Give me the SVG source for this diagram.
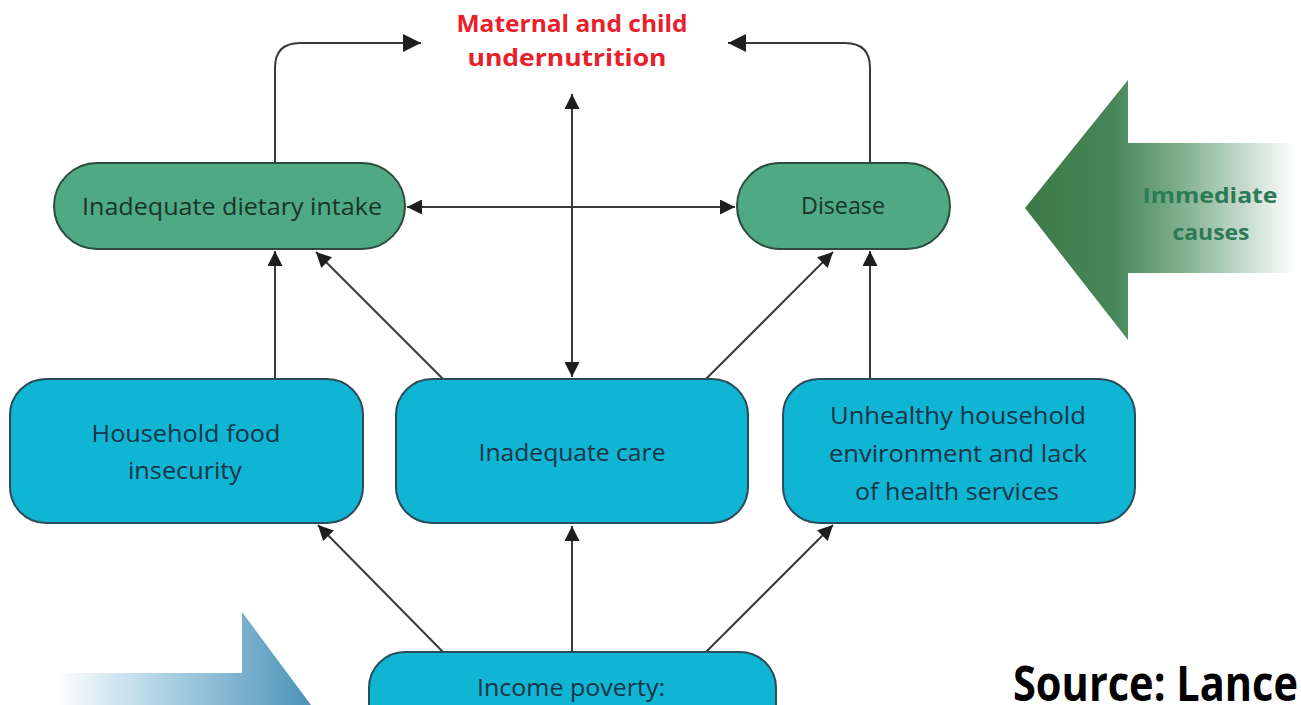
<svg xmlns="http://www.w3.org/2000/svg" width="1301" height="705" viewBox="0 0 1301 705">
<style>
.lbl{font-family:"Open Sans","Noto Sans",sans-serif;font-size:24px;font-weight:500;text-anchor:middle}
.g{fill:#4fa983;stroke:#2c4a3d;stroke-width:2}
.gt{fill:#17352a}
.b{fill:#0fb5d2;stroke:#2a4c58;stroke-width:2}
.bt{fill:#173449}
.c{fill:none;stroke:#3a3a3a;stroke-width:2}
</style>
<defs>
<marker id="ah" viewBox="0 0 10 10" refX="10" refY="5" markerUnits="userSpaceOnUse" markerWidth="16" markerHeight="15" orient="auto-start-reverse">
<path d="M0,0 L10,5 L0,10 z" fill="#1e1e1e"/>
</marker>
<marker id="ahb" viewBox="0 0 10 10" refX="10" refY="5" markerUnits="userSpaceOnUse" markerWidth="19" markerHeight="18" orient="auto-start-reverse">
<path d="M0,0 L10,5 L0,10 z" fill="#1e1e1e"/>
</marker>
<linearGradient id="gg" gradientUnits="userSpaceOnUse" x1="1025" y1="0" x2="1296" y2="0">
<stop offset="0" stop-color="#3b7845"/>
<stop offset="0.33" stop-color="#47875a"/>
<stop offset="0.6" stop-color="#86b394"/>
<stop offset="1" stop-color="#ffffff"/>
</linearGradient>
<linearGradient id="bg" gradientUnits="userSpaceOnUse" x1="55" y1="0" x2="311" y2="0">
<stop offset="0" stop-color="#ffffff"/>
<stop offset="0.45" stop-color="#a9cfe2"/>
<stop offset="1" stop-color="#4c94b9"/>
</linearGradient>
</defs>
<rect x="0" y="0" width="1301" height="705" fill="#ffffff"/>

<g id="big-arrow-immediate">
<polygon points="1025,208 1128,80 1128,143 1301,143 1301,273 1128,273 1128,340" fill="url(#gg)"/>
<text class="lbl" x="1210" y="203" textLength="135" lengthAdjust="spacingAndGlyphs" style="font-weight:bold;font-size:22px;fill:#2d7a56">Immediate</text>
<text class="lbl" x="1211" y="240" textLength="77" lengthAdjust="spacingAndGlyphs" style="font-weight:bold;font-size:22px;fill:#2d7a56">causes</text>
</g>

<g id="big-arrow-basic">
<polygon points="30,673 242,673 242,612 311,705 30,705" fill="url(#bg)"/>
</g>

<g id="connectors">
<path class="c" d="M275,163 V68 Q275,43 300,43 H421" marker-end="url(#ahb)"/>
<path class="c" d="M870,163 V68 Q870,43 845,43 H728" marker-end="url(#ahb)"/>
<path class="c" d="M572,94 V377" marker-start="url(#ah)" marker-end="url(#ah)"/>
<path class="c" d="M407,207 H735" marker-start="url(#ah)" marker-end="url(#ah)"/>
<path class="c" d="M275,379 V251" marker-end="url(#ah)"/>
<path class="c" d="M443,379 L316,252" marker-end="url(#ah)"/>
<path class="c" d="M706,379 L833,252" marker-end="url(#ah)"/>
<path class="c" d="M870,379 V251" marker-end="url(#ah)"/>
<path class="c" d="M443,652 L318,525" marker-end="url(#ah)"/>
<path class="c" d="M572,652 V526" marker-end="url(#ah)"/>
<path class="c" d="M706,652 L833,525" marker-end="url(#ah)"/>
</g>

<g id="title">
<text class="lbl" x="572" y="32" textLength="231" lengthAdjust="spacingAndGlyphs" style="font-weight:bold;fill:#e8202a">Maternal and child</text>
<text class="lbl" x="567" y="66" textLength="199" lengthAdjust="spacingAndGlyphs" style="font-weight:bold;fill:#e8202a">undernutrition</text>
</g>

<g id="dietary">
<rect class="g" x="54" y="163" width="351" height="86" rx="43" ry="43"/>
<text class="lbl gt" x="232" y="215" textLength="300" lengthAdjust="spacingAndGlyphs">Inadequate dietary intake</text>
</g>

<g id="disease">
<rect class="g" x="737" y="163" width="213" height="86" rx="43" ry="43"/>
<text class="lbl gt" x="843" y="214" textLength="84" lengthAdjust="spacingAndGlyphs">Disease</text>
</g>

<g id="food">
<rect class="b" x="10" y="379" width="353" height="144" rx="36" ry="36"/>
<text class="lbl bt" x="186" y="442" textLength="189" lengthAdjust="spacingAndGlyphs">Household food</text>
<text class="lbl bt" x="185" y="479" textLength="114" lengthAdjust="spacingAndGlyphs">insecurity</text>
</g>

<g id="care">
<rect class="b" x="396" y="379" width="352" height="144" rx="36" ry="36"/>
<text class="lbl bt" x="572" y="461" textLength="187" lengthAdjust="spacingAndGlyphs">Inadequate care</text>
</g>

<g id="environment">
<rect class="b" x="783" y="379" width="352" height="144" rx="36" ry="36"/>
<text class="lbl bt" x="958" y="424" textLength="256" lengthAdjust="spacingAndGlyphs">Unhealthy household</text>
<text class="lbl bt" x="958" y="462" textLength="258" lengthAdjust="spacingAndGlyphs">environment and lack</text>
<text class="lbl bt" x="957" y="500" textLength="204" lengthAdjust="spacingAndGlyphs">of health services</text>
</g>

<g id="income">
<rect class="b" x="369" y="652" width="407" height="110" rx="36" ry="36"/>
<text class="lbl bt" x="571" y="696" textLength="188" lengthAdjust="spacingAndGlyphs">Income poverty:</text>
</g>

<g id="source">
<text x="1013" y="701" textLength="285" lengthAdjust="spacingAndGlyphs" style="font-family:'Open Sans','Noto Sans',sans-serif;font-weight:bold;font-size:49px;fill:#000000">Source: Lance</text>
</g>
</svg>
